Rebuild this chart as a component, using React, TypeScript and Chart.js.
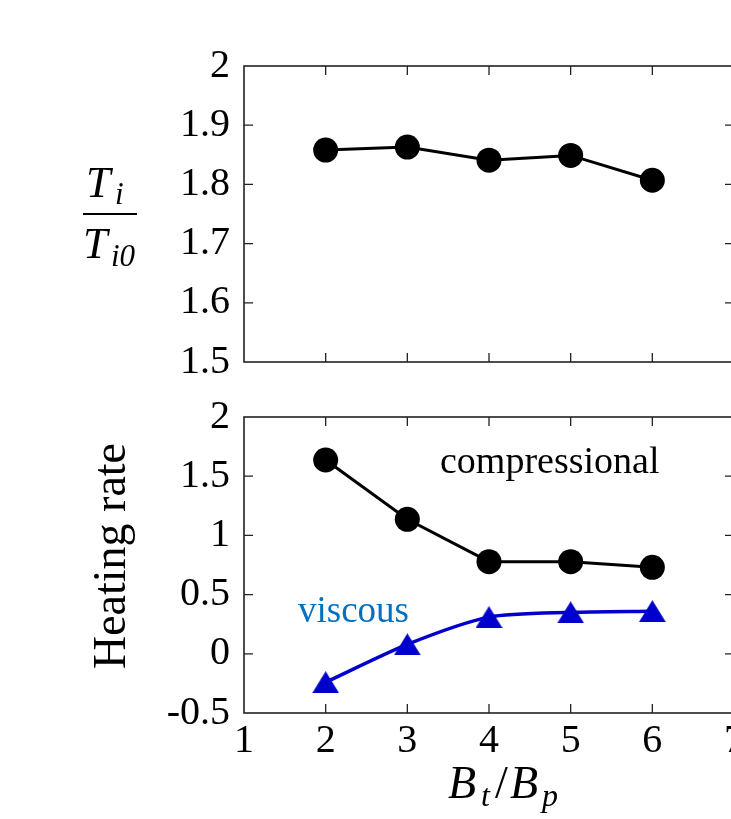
import React, { useEffect, useRef } from "react";
import { Chart, registerables } from "chart.js";

Chart.register(...registerables);

// ---- data ----
const X_VALUES = [2, 3, 4, 5, 6];
const TI_RATIO = [1.858, 1.863, 1.841, 1.849, 1.807];
const COMPRESSIONAL = [1.637, 1.136, 0.778, 0.778, 0.73];
const VISCOUS = [-0.24, 0.08, 0.31, 0.35, 0.36];

const X_TICKS = [1, 2, 3, 4, 5, 6, 7];
const X_TICK_LABELS = ["1", "2", "3", "4", "5", "6", "7"];
const TOP_Y_TICKS = [1.5, 1.6, 1.7, 1.8, 1.9, 2];
const TOP_Y_LABELS = ["1.5", "1.6", "1.7", "1.8", "1.9", "2"];
const BOT_Y_TICKS = [-0.5, 0, 0.5, 1, 1.5, 2];
const BOT_Y_LABELS = ["-0.5", "0", "0.5", "1", "1.5", "2"];

const SERIF = "'Liberation Serif', 'Times New Roman', serif";
const CANVAS_W = 760;
const TOP_H = 390;
const BOT_H = 429;

function labelFor(ticks: number[], labels: string[], v: number) {
  const i = ticks.findIndex((t) => Math.abs(t - v) < 1e-6);
  return i >= 0 ? labels[i] : "";
}

function makeTriangle(w: number, h: number, color: string) {
  const c = document.createElement("canvas");
  c.width = w;
  c.height = h;
  const g = c.getContext("2d")!;
  g.fillStyle = color;
  g.beginPath();
  g.moveTo(w / 2, 0);
  g.lineTo(w, h);
  g.lineTo(0, h);
  g.closePath();
  g.fill();
  return c;
}

const framePlugin = {
  id: "frame",
  beforeDatasetsDraw(chart: any) {
    const { ctx, chartArea: a, scales } = chart;
    ctx.save();
    ctx.strokeStyle = "#222";
    ctx.lineWidth = 1.6;
    ctx.strokeRect(a.left, a.top, a.right - a.left, a.bottom - a.top);
    ctx.lineWidth = 1.3;
    const TL = 9;
    scales.x.ticks.forEach((t: any) => {
      const px = scales.x.getPixelForValue(t.value);
      if (px <= a.left + 1 || px >= a.right - 1) return;
      ctx.beginPath();
      ctx.moveTo(px, a.bottom);
      ctx.lineTo(px, a.bottom - TL);
      ctx.moveTo(px, a.top);
      ctx.lineTo(px, a.top + TL);
      ctx.stroke();
    });
    scales.y.ticks.forEach((t: any) => {
      const py = scales.y.getPixelForValue(t.value);
      if (py <= a.top + 1 || py >= a.bottom - 1) return;
      ctx.beginPath();
      ctx.moveTo(a.left, py);
      ctx.lineTo(a.left + TL, py);
      ctx.moveTo(a.right, py);
      ctx.lineTo(a.right - TL, py);
      ctx.stroke();
    });
    ctx.restore();
  },
};

function xScale(showLabels: boolean, height: number) {
  return {
    type: "linear",
    min: 1,
    max: 7,
    grid: { display: false, drawTicks: false },
    border: { display: false },
    afterBuildTicks: (s: any) => {
      s.ticks = X_TICKS.map((v) => ({ value: v }));
    },
    afterFit: (s: any) => {
      s.height = height;
      s.paddingLeft = 0;
      s.paddingRight = 0;
      s.paddingTop = 0;
      s.paddingBottom = 0;
    },
    ticks: {
      display: showLabels,
      autoSkip: false,
      maxRotation: 0,
      padding: 4,
      color: "#000",
      font: { family: SERIF, size: 40 },
      callback: (v: number) => labelFor(X_TICKS, X_TICK_LABELS, v),
    },
  };
}

function yScale(min: number, max: number, ticks: number[], labels: string[]) {
  return {
    type: "linear",
    min,
    max,
    grid: { display: false, drawTicks: false },
    border: { display: false },
    afterBuildTicks: (s: any) => {
      s.ticks = ticks.map((v) => ({ value: v }));
    },
    afterFit: (s: any) => {
      s.width = 244;
      s.paddingLeft = 0;
      s.paddingRight = 0;
      s.paddingTop = 0;
      s.paddingBottom = 0;
    },
    ticks: {
      autoSkip: false,
      padding: 14,
      color: "#000",
      font: { family: SERIF, size: 40 },
      callback: (v: number) => labelFor(ticks, labels, v),
    },
  };
}

export default function App() {
  const topRef = useRef<HTMLCanvasElement>(null);
  const botRef = useRef<HTMLCanvasElement>(null);

  useEffect(() => {
    const topTitle = {
      id: "topTitle",
      afterDraw(chart: any) {
        const ctx = chart.ctx;
        ctx.save();
        ctx.fillStyle = "#000";
        ctx.textBaseline = "alphabetic";
        ctx.textAlign = "left";
        ctx.font = `italic 44px ${SERIF}`;
        ctx.fillText("T", 86, 197);
        ctx.fillText("T", 83, 258);
        ctx.font = `italic 31px ${SERIF}`;
        ctx.fillText("i", 115, 204);
        ctx.fillText("i0", 111, 266);
        ctx.strokeStyle = "#000";
        ctx.lineWidth = 2;
        ctx.beginPath();
        ctx.moveTo(83, 214);
        ctx.lineTo(137, 214);
        ctx.stroke();
        ctx.restore();
      },
    };

    const botTitle = {
      id: "botTitle",
      afterDraw(chart: any) {
        const ctx = chart.ctx;
        const off = 390;
        ctx.save();
        ctx.fillStyle = "#000";
        // y title
        ctx.save();
        ctx.translate(125, 556 - off);
        ctx.rotate(-Math.PI / 2);
        ctx.textAlign = "center";
        ctx.textBaseline = "alphabetic";
        ctx.font = `46px ${SERIF}`;
        ctx.fillText("Heating rate", 0, 0);
        ctx.restore();
        // x title
        ctx.textAlign = "left";
        ctx.textBaseline = "alphabetic";
        ctx.font = `italic 46px ${SERIF}`;
        ctx.fillText("B", 448, 798 - off);
        ctx.font = `italic 32px ${SERIF}`;
        ctx.fillText("t", 481, 806 - off);
        ctx.font = `46px ${SERIF}`;
        ctx.fillText("/", 495, 798 - off);
        ctx.font = `italic 46px ${SERIF}`;
        ctx.fillText("B", 510, 798 - off);
        ctx.font = `italic 32px ${SERIF}`;
        ctx.fillText("p", 542, 806 - off);
        // annotations
        ctx.font = `38px ${SERIF}`;
        ctx.fillStyle = "#000";
        ctx.fillText("compressional", 440, 473 - off);
        ctx.font = `37px ${SERIF}`;
        ctx.fillStyle = "rgb(0,112,192)";
        ctx.fillText("viscous", 298, 622 - off);
        ctx.restore();
      },
    };

    const top = new Chart(topRef.current!, {
      type: "line",
      data: {
        datasets: [
          {
            data: X_VALUES.map((x, i) => ({ x, y: TI_RATIO[i] })),
            borderColor: "#000",
            backgroundColor: "#000",
            borderWidth: 3,
            pointRadius: 12.5,
            pointBorderWidth: 0,
            pointBackgroundColor: "#000",
            tension: 0,
          },
        ],
      },
      options: {
        responsive: false,
        animation: false,
        events: [],
        layout: {
          autoPadding: false,
          padding: { left: 0, top: 66, right: CANVAS_W - 734, bottom: TOP_H - 362 },
        },
        plugins: { legend: { display: false }, tooltip: { enabled: false } },
        scales: {
          x: xScale(false, 0),
          y: yScale(1.5, 2, TOP_Y_TICKS, TOP_Y_LABELS),
        } as any,
      },
      plugins: [framePlugin, topTitle],
    } as any);

    const tri = makeTriangle(27, 22, "#0000CC");
    const bot = new Chart(botRef.current!, {
      type: "line",
      data: {
        datasets: [
          {
            data: X_VALUES.map((x, i) => ({ x, y: COMPRESSIONAL[i] })),
            borderColor: "#000",
            backgroundColor: "#000",
            borderWidth: 3,
            pointRadius: 12.5,
            pointBorderWidth: 0,
            pointBackgroundColor: "#000",
            tension: 0,
          },
          {
            data: X_VALUES.map((x, i) => ({ x, y: VISCOUS[i] })),
            borderColor: "#0000CC",
            backgroundColor: "#0000CC",
            borderWidth: 3.5,
            pointRadius: 13,
            pointStyle: tri,
            pointBorderWidth: 0,
            tension: 0.25,
          },
        ],
      },
      options: {
        responsive: false,
        animation: false,
        events: [],
        layout: {
          autoPadding: false,
          padding: { left: 0, top: 27, right: CANVAS_W - 734, bottom: 0 },
        },
        plugins: { legend: { display: false }, tooltip: { enabled: false } },
        scales: {
          x: xScale(true, BOT_H - 323),
          y: yScale(-0.5, 2, BOT_Y_TICKS, BOT_Y_LABELS),
        } as any,
      },
      plugins: [framePlugin, botTitle],
    } as any);

    return () => {
      top.destroy();
      bot.destroy();
    };
  }, []);

  return (
    <div
      style={{
        position: "absolute",
        left: 0,
        top: 0,
        width: 731,
        height: 819,
        overflow: "hidden",
        background: "#fff",
      }}
    >
      <canvas
        ref={topRef}
        width={CANVAS_W}
        height={TOP_H}
        style={{ position: "absolute", left: 0, top: 0, width: CANVAS_W, height: TOP_H }}
      />
      <canvas
        ref={botRef}
        width={CANVAS_W}
        height={BOT_H}
        style={{ position: "absolute", left: 0, top: TOP_H, width: CANVAS_W, height: BOT_H }}
      />
    </div>
  );
}
